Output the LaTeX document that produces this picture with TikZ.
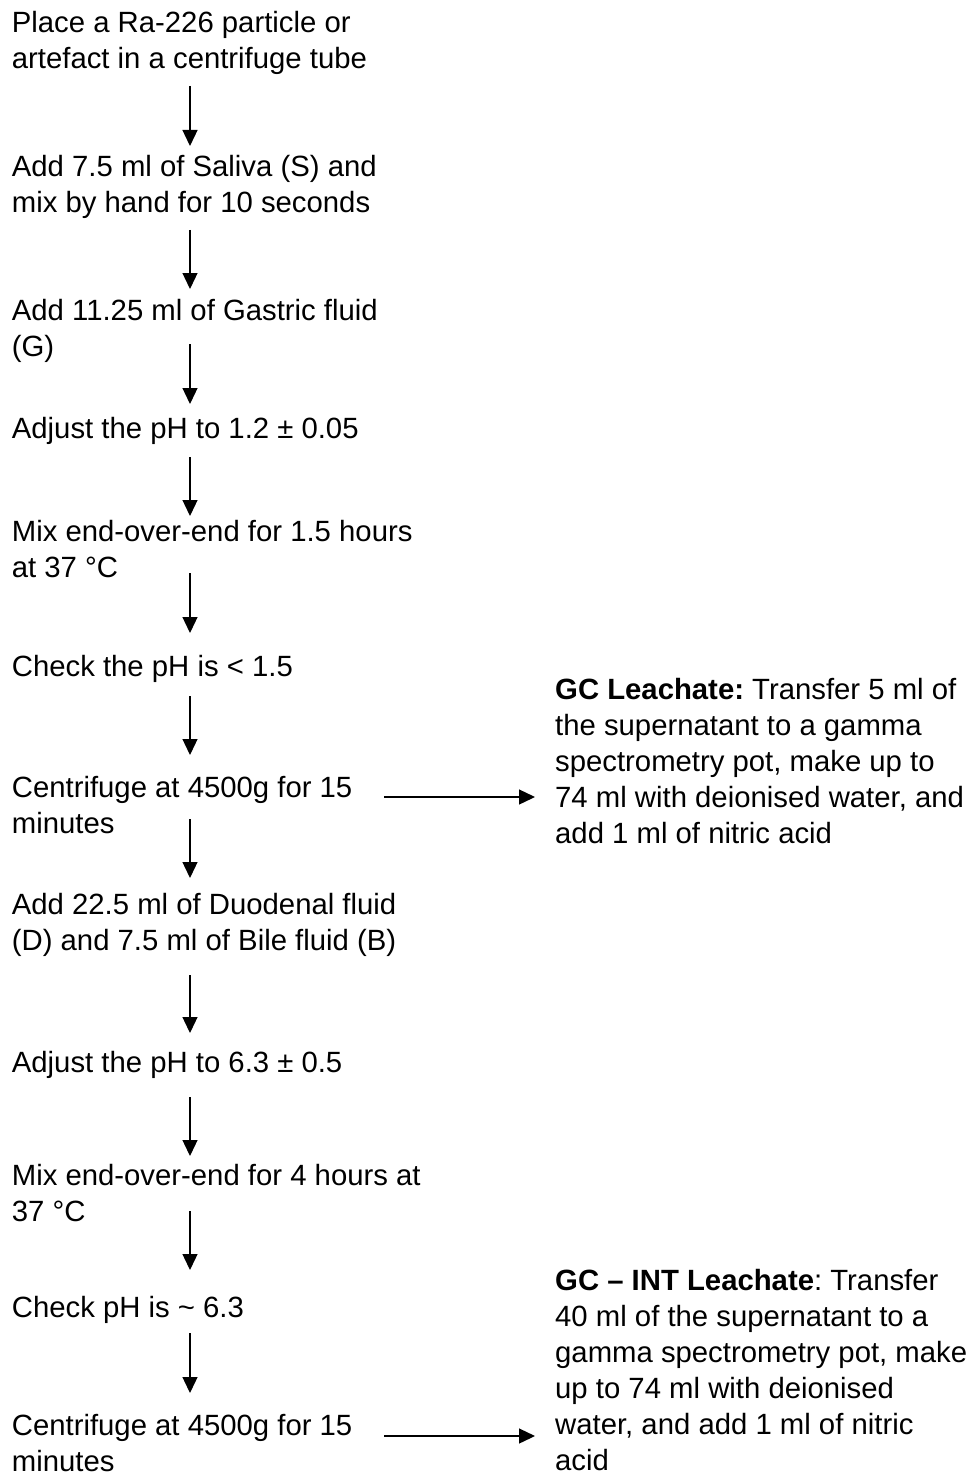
\documentclass[tikz,border=0pt]{standalone}
\usepackage{fontspec}
\setmainfont{Liberation Sans}
\usetikzlibrary{arrows.meta}
\frenchspacing
\begin{document}
\frenchspacing
\begin{tikzpicture}[x=1pt,y=-1pt,
  txt/.style={anchor=base west, inner sep=0pt, align=left, font=\fontsize{29.3}{36}\selectfont},
  arr/.style={line width=1.3pt, draw=black, -{Triangle[length=16pt,width=15pt]}}]
\useasboundingbox[fill=white] (0,0) rectangle (968,1479);
% steps (anchored at the baseline of the last line)
\node[txt] (s1) at (11.7,69) {Place a Ra-226 particle or\\artefact in a centrifuge tube};
\node[txt] (s2) at (11.7,213) {Add 7.5 ml of Saliva (S) and\\mix by hand for 10 seconds};
\node[txt] (s3) at (11.7,356) {Add 11.25 ml of Gastric fluid\\(G)};
\node[txt] (s4) at (11.7,438) {Adjust the pH to 1.2 ± 0.05};
\node[txt] (s5) at (11.7,577) {Mix end-over-end for 1.5 hours\\at 37 °C};
\node[txt] (s6) at (11.7,676) {Check the pH is < 1.5};
\node[txt] (s7) at (11.7,833) {Centrifuge at 4500g for 15\\minutes};
\node[txt] (s8) at (11.7,950) {Add 22.5 ml of Duodenal fluid\\(D) and 7.5 ml of Bile fluid (B)};
\node[txt] (s9) at (11.7,1072) {Adjust the pH to 6.3 ± 0.5};
\node[txt] (s10) at (11.7,1221) {Mix end-over-end for 4 hours at\\37 °C};
\node[txt] (s11) at (11.7,1317) {Check pH is \textasciitilde{} 6.3};
\node[txt] (s12) at (11.7,1471) {Centrifuge at 4500g for 15\\minutes};
% leachates
\node[txt] (r1) at (555,843) {\textbf{GC Leachate:} Transfer 5 ml of\\the supernatant to a gamma\\spectrometry pot, make up to\\74 ml with deionised water, and\\add 1 ml of nitric acid};
\node[txt] (r2) at (555,1470) {\textbf{GC – INT Leachate}: Transfer\\40 ml of the supernatant to a\\gamma spectrometry pot, make\\up to 74 ml with deionised\\water, and add 1 ml of nitric\\acid};
% connector ends
\coordinate (a1s) at (190,86);   \coordinate (a1e) at (190,146);
\coordinate (a2s) at (190,230);  \coordinate (a2e) at (190,289);
\coordinate (a3s) at (190,344);  \coordinate (a3e) at (190,404);
\coordinate (a4s) at (190,457);  \coordinate (a4e) at (190,516);
\coordinate (a5s) at (190,573);  \coordinate (a5e) at (190,633);
\coordinate (a6s) at (190,696);  \coordinate (a6e) at (190,755);
\coordinate (a7s) at (190,819);  \coordinate (a7e) at (190,878);
\coordinate (a8s) at (190,975);  \coordinate (a8e) at (190,1033);
\coordinate (a9s) at (190,1097); \coordinate (a9e) at (190,1156);
\coordinate (a10s) at (190,1211); \coordinate (a10e) at (190,1270);
\coordinate (a11s) at (190,1333); \coordinate (a11e) at (190,1393);
\coordinate (h1s) at (384,797);  \coordinate (h1e) at (535,797);
\coordinate (h2s) at (384,1436); \coordinate (h2e) at (535,1436);
\foreach \i in {1,...,11} \draw[arr] (a\i s) -- (a\i e);
\draw[arr] (h1s) -- (h1e);
\draw[arr] (h2s) -- (h2e);
\end{tikzpicture}
\end{document}
